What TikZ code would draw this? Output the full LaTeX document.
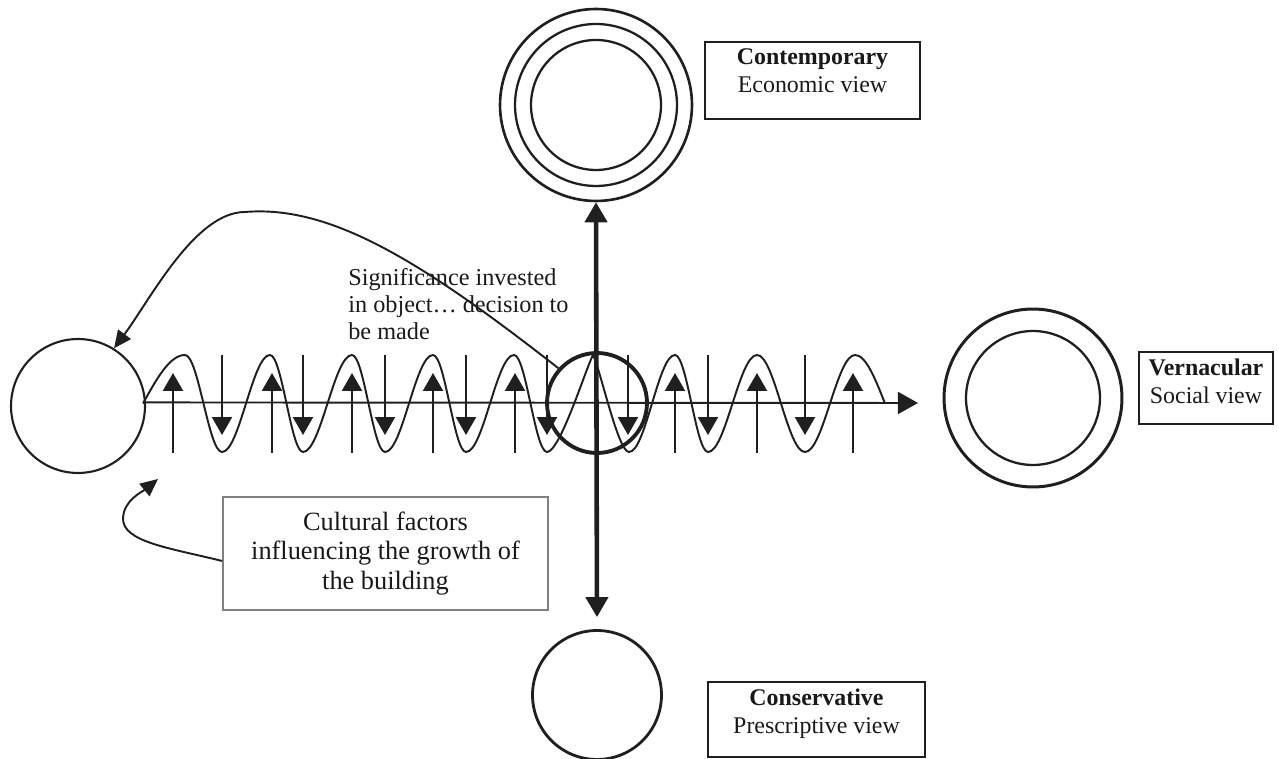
\documentclass[tikz,border=0pt]{standalone}
\usepackage{fontspec}
\setmainfont{Liberation Serif}
\usetikzlibrary{arrows.meta,calc}

% one drawing unit = 0.02cm
\newlength\pxu
\setlength\pxu{0.02cm}

% framed view label: width, height, bold title, plain second line
\newcommand\viewtext[4]{%
  \parbox[c][#2\pxu][t]{#1\pxu}{\fontsize{13.6}{15.9}\selectfont\centering
    \vspace*{7\pxu}\textbf{#3}\\#4}}

\tikzset{
  ink/.style={draw=black!88, line width=1.1pt},
  ring/.style={circle, draw=black!88, inner sep=0pt},
  viewbox/.style={draw=black!88, line width=1.2pt, inner sep=0pt, text=black!90},
  smalltip/.style={-{Triangle[width=11.4pt,length=10.2pt]}},
  bigtip/.style={-{Triangle[width=12.5pt,length=11.4pt]}},
  curvetip/.style={-{Triangle[width=9pt,length=10pt]}},
}

\begin{document}
\begin{tikzpicture}[x=0.02cm, y=-0.02cm]
\useasboundingbox (0,0) rectangle (1279,759);

% circles
\node[ring, line width=1.2pt, minimum size=2.68cm] (left) at (78,406) {};
\node[ring, line width=2.2pt, minimum size=2cm] (hub) at (597,403) {};
\node[ring, line width=1.5pt, minimum size=3.84cm] (cont) at (596,105) {};
\node[ring, line width=1.3pt, minimum size=3.24cm] (contmid) at (596,105) {};
\node[ring, line width=1.3pt, minimum size=2.6cm] (contin) at (596,105) {};
\node[ring, line width=1.7pt, minimum size=3.56cm] (vern) at (1033,398) {};
\node[ring, line width=1.3pt, minimum size=2.68cm] (vernin) at (1033,398) {};
\node[ring, line width=1.6pt, minimum size=2.58cm] (cons) at (597,695) {};

% view labels
\node[viewbox] (contbox) at (812.5,80.5) {\viewtext{215}{77}{Contemporary}{Economic view}};
\node[viewbox] (vernbox) at (1206,388) {\viewtext{134}{72}{Vernacular}{Social view}};
\node[viewbox] (consbox) at (816.5,719.5) {\viewtext{217}{75}{Conservative}{Prescriptive view}};

% cultural factors box
\node[draw=black!50, line width=0.9pt, minimum width=6.5cm, minimum height=2.26cm,
      align=center, inner sep=0pt, text=black!90,
      font=\fontsize{15}{16.8}\selectfont] (cf) at (385.5,553.5)
  {Cultural factors\\influencing the growth of\\the building};

% annotation above the axis
\node[anchor=north west, align=left, inner sep=0pt, text=black!90,
      font=\fontsize{13.8}{15.4}\selectfont] (sig) at (348,268)
  {Significance invested\\in object… decision to\\be made};

% horizontal axis
\coordinate (axisend) at (918,403);
\draw[ink, bigtip] (left.3) -- (axisend);

% growth wave
\draw[ink] (143,403.5) sin (185,355) cos (203.5,403.5) sin (222,452)
  cos (246,403.5) sin (270,355) cos (286.5,403.5) sin (303,452)
  cos (327.5,403.5) sin (352,355) cos (368.5,403.5) sin (385,452)
  cos (409,403.5) sin (433,355) cos (449.5,403.5) sin (466,452)
  cos (490,403.5) sin (514,355) cos (530.5,403.5) sin (547,452)
  .. controls (560,452) and (586,368) .. (593,355)
  .. controls (600,368) and (618,452) .. (629,452)
  cos (652,403.5) sin (675,355) cos (691.5,403.5) sin (708,452)
  cos (732.5,403.5) sin (757,355) cos (781,403.5) sin (805,452)
  cos (830,403.5) sin (855,355) cos (885,403.5);

% rising and falling forces
\foreach \x in {173,272,352,433,515,675,757,853}
  \draw[ink, smalltip] (\x,453) -- (\x,373);
\foreach \x in {222,303,385,466,547,628,708,805}
  \draw[ink, smalltip] (\x,355) -- (\x,435);

% vertical axis between the contemporary and conservative views
\draw[draw=black!88, line width=2.6pt,
      {Triangle[width=12.5pt,length=11.4pt]}-{Triangle[width=12.5pt,length=11.4pt]},
      shorten >=0.24cm] (cont.south) -- (cons.north);

% feedback from the decision point to the origin
\draw[ink, curvetip] (hub.138) .. controls (420,260) and (330,205) .. (245,212)
  .. controls (195,212) and (150,300) .. (left.58);

% cultural factors acting on the origin
\coordinate (cftip) at (158,479);
\draw[ink, curvetip] ([yshift=-0.15cm]cf.west) .. controls (170,548) and (122,542) .. (123,518)
  .. controls (124,500) and (142,492) .. (cftip);

\end{tikzpicture}
\end{document}
